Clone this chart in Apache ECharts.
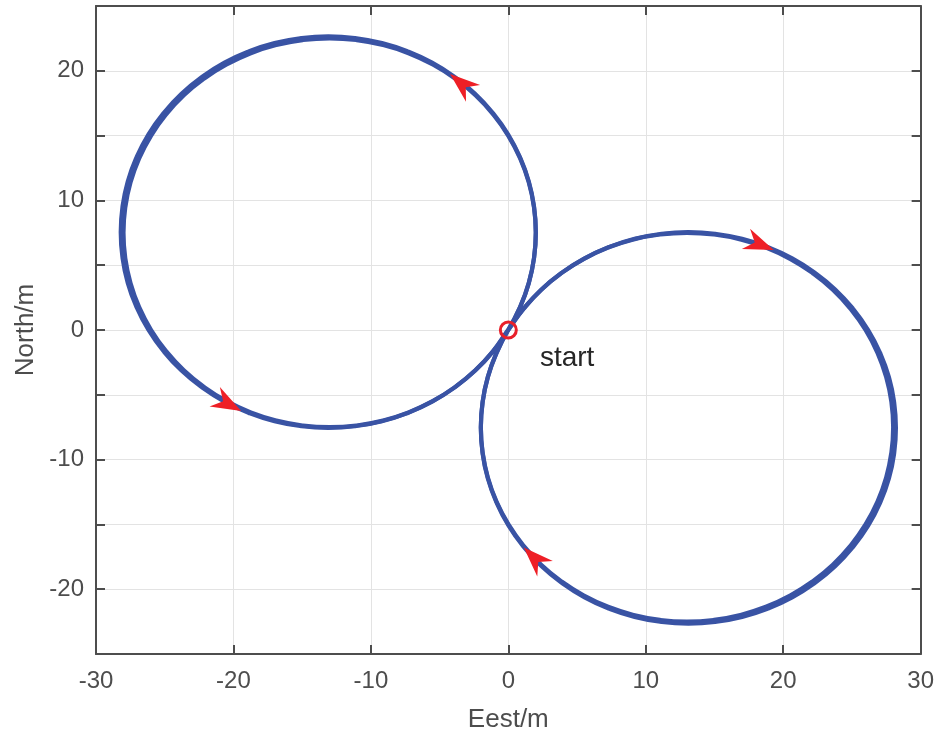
<!DOCTYPE html>
<html>
<head>
<meta charset="utf-8">
<title>Trajectory</title>
<script src="https://cdn.jsdelivr.net/npm/echarts@6/dist/echarts.min.js"></script>
<style>
  html, body { margin: 0; padding: 0; background: #fff; }
  #chart { width: 937px; height: 738px; }
</style>
</head>
<body>
<div id="chart"></div>
<script>
// trajectory, [east, north] in metres
// first lap, west loop (counter-clockwise from the start)
var leftLoop = [
    [0, 0], [0.86, 1.76], [1.49, 3.62], [1.87, 5.54], [2.0, 7.5], [1.87, 9.46],
    [1.49, 11.38], [0.86, 13.24], [-0.01, 15.0], [-1.10, 16.63], [-2.39, 18.11],
    [-3.87, 19.40], [-5.5, 20.49], [-7.26, 21.36], [-9.12, 21.99], [-11.04, 22.37],
    [-13, 22.5], [-14.96, 22.37], [-16.88, 21.99], [-18.74, 21.36], [-20.5, 20.49],
    [-22.13, 19.40], [-23.61, 18.11], [-24.90, 16.63], [-25.99, 15.0], [-26.86, 13.24],
    [-27.49, 11.38], [-27.87, 9.46], [-28, 7.5], [-27.87, 5.54], [-27.49, 3.62],
    [-26.86, 1.76], [-25.99, 0], [-24.90, -1.63], [-23.61, -3.11], [-22.13, -4.40],
    [-20.5, -5.49], [-18.74, -6.36], [-16.88, -6.99], [-14.96, -7.37], [-13, -7.5],
    [-11.04, -7.37], [-9.12, -6.99], [-7.26, -6.36], [-5.5, -5.49], [-3.87, -4.40],
    [-2.39, -3.11], [-1.10, -1.63], [0, 0]
];
// first lap, east loop (clockwise)
var rightLoop = [
    [0, 0], [1.10, 1.63], [2.39, 3.11], [3.87, 4.40], [5.5, 5.49], [7.26, 6.36],
    [9.12, 6.99], [11.04, 7.37], [13, 7.5], [14.96, 7.37], [16.88, 6.99],
    [18.74, 6.36], [20.5, 5.49], [22.13, 4.40], [23.61, 3.11], [24.90, 1.63],
    [25.99, 0], [26.86, -1.76], [27.49, -3.62], [27.87, -5.54], [28, -7.5],
    [27.87, -9.46], [27.49, -11.38], [26.86, -13.24], [25.99, -15.0], [24.90, -16.63],
    [23.61, -18.11], [22.13, -19.40], [20.5, -20.49], [18.74, -21.36], [16.88, -21.99],
    [14.96, -22.37], [13, -22.5], [11.04, -22.37], [9.12, -21.99], [7.26, -21.36],
    [5.5, -20.49], [3.87, -19.40], [2.39, -18.11], [1.10, -16.63], [0.01, -15.0],
    [-0.86, -13.24], [-1.49, -11.38], [-1.87, -9.46], [-2, -7.5], [-1.87, -5.54],
    [-1.49, -3.62], [-0.86, -1.76], [0, 0]
];
// second lap drifts a little outward on the far sides
var leftLoop2 = [
    [-0.02, 0], [0.85, 1.77], [1.49, 3.64], [1.87, 5.58], [2.0, 7.55], [1.87, 9.52],
    [1.49, 11.46], [0.85, 13.33], [-0.02, 15.10], [-1.12, 16.74], [-2.42, 18.23],
    [-3.91, 19.53], [-5.55, 20.63], [-7.32, 21.50], [-9.19, 22.14], [-11.13, 22.52],
    [-13.1, 22.65], [-15.07, 22.52], [-17.01, 22.14], [-18.88, 21.50], [-20.65, 20.63],
    [-22.29, 19.53], [-23.78, 18.23], [-25.08, 16.74], [-26.18, 15.10], [-27.05, 13.33],
    [-27.69, 11.46], [-28.07, 9.52], [-28.2, 7.55], [-28.07, 5.58], [-27.69, 3.64],
    [-27.05, 1.77], [-26.18, 0], [-25.08, -1.64], [-23.78, -3.13], [-22.29, -4.43],
    [-20.65, -5.53], [-18.88, -6.40], [-17.01, -7.04], [-15.07, -7.42], [-13.1, -7.55],
    [-11.13, -7.42], [-9.19, -7.04], [-7.32, -6.40], [-5.55, -5.53], [-3.91, -4.43],
    [-2.42, -3.13], [-1.12, -1.64], [-0.02, 0]
];
var rightLoop2 = [
    [0.02, 0], [1.12, 1.64], [2.42, 3.13], [3.91, 4.43], [5.55, 5.53], [7.32, 6.40],
    [9.19, 7.04], [11.13, 7.42], [13.1, 7.55], [15.07, 7.42], [17.01, 7.04],
    [18.88, 6.40], [20.65, 5.53], [22.29, 4.43], [23.78, 3.13], [25.08, 1.64],
    [26.18, 0], [27.05, -1.77], [27.69, -3.64], [28.07, -5.58], [28.2, -7.55],
    [28.07, -9.52], [27.69, -11.46], [27.05, -13.33], [26.18, -15.10], [25.08, -16.74],
    [23.78, -18.23], [22.29, -19.53], [20.65, -20.63], [18.88, -21.50], [17.01, -22.14],
    [15.07, -22.52], [13.1, -22.65], [11.13, -22.52], [9.19, -22.14], [7.32, -21.50],
    [5.55, -20.63], [3.91, -19.53], [2.42, -18.23], [1.12, -16.74], [0.02, -15.10],
    [-0.85, -13.33], [-1.49, -11.46], [-1.87, -9.52], [-2.0, -7.55], [-1.87, -5.58],
    [-1.49, -3.64], [-0.85, -1.77], [-0.02, 0]
];

// direction arrows: position and heading (deg, counter-clockwise from east)
var arrowX = [-3.4, -20.4, 18.3, 1.9];
var arrowY = [19.0, -5.7, 6.6, -17.6];
var arrowHeading = [140, -28, -22, 135];

var startPoint = [0, 0];
var startText = 'start';
var startTextPos = [2.3, -2.2];

var xTicks = { min: -30, max: 30, step: 10 };
var yTicks = { min: -25, max: 25, step: 5, labelStep: 10 };

var FONT = '"Liberation Sans", Arial, Helvetica, sans-serif';
var AXIS_COLOR = '#4d4d4d';
var TRACK_COLOR = '#3953a4';

var chart = echarts.init(document.getElementById('chart'));

var arrowData = [];
for (var i = 0; i < arrowX.length; i++) {
    arrowData.push({
        value: [arrowX[i], arrowY[i]],
        symbolRotate: arrowHeading[i] - 90
    });
}

function baseAxis(extra) {
    var ax = {
        type: 'value',
        axisLine: { show: true, onZero: false, lineStyle: { color: AXIS_COLOR, width: 2 } },
        axisTick: { show: true, inside: true, length: 9, lineStyle: { color: AXIS_COLOR, width: 2 } },
        axisLabel: { show: false },
        splitLine: { show: false }
    };
    for (var k in extra) ax[k] = extra[k];
    return ax;
}

function track(name, data) {
    return {
        name: name,
        type: 'line',
        data: data,
        smooth: true,
        showSymbol: false,
        symbol: 'none',
        lineStyle: { color: TRACK_COLOR, width: 4.2 },
        z: 2
    };
}

var option = {
    animation: false,
    backgroundColor: '#fff',
    grid: { left: 96, right: 16, top: 6, bottom: 82 },
    xAxis: [
        baseAxis({
            min: xTicks.min, max: xTicks.max, interval: xTicks.step,
            position: 'bottom',
            name: 'Eest/m', nameLocation: 'middle', nameGap: 53,
            nameTextStyle: { color: AXIS_COLOR, fontSize: 26, fontFamily: FONT },
            axisLabel: { show: true, color: AXIS_COLOR, fontSize: 24, fontFamily: FONT, margin: 15 },
            splitLine: { show: true, lineStyle: { color: '#e3e3e3', width: 1 } }
        }),
        baseAxis({
            min: xTicks.min, max: xTicks.max, interval: xTicks.step,
            position: 'top'
        })
    ],
    yAxis: [
        baseAxis({
            min: yTicks.min, max: yTicks.max, interval: yTicks.step,
            position: 'left',
            name: 'North/m', nameLocation: 'middle', nameGap: 57,
            nameTextStyle: { color: AXIS_COLOR, fontSize: 26, fontFamily: FONT },
            axisLabel: {
                show: true, color: AXIS_COLOR, fontSize: 24, fontFamily: FONT, margin: 12,
                formatter: function (v) { return v % yTicks.labelStep === 0 ? String(v) : ''; }
            },
            splitLine: { show: true, lineStyle: { color: '#e3e3e3', width: 1 } }
        }),
        baseAxis({
            min: yTicks.min, max: yTicks.max, interval: yTicks.step,
            position: 'right'
        })
    ],
    series: [
        track('trajectory', leftLoop.concat(rightLoop.slice(1))),
        track('trajectory lap 2', leftLoop2.concat(rightLoop2.slice(1))),
        {
            name: 'direction',
            type: 'scatter',
            data: arrowData,
            symbol: 'path://M0,0 L9,22 L0,15 L-9,22 Z',
            symbolSize: [22, 30],
            itemStyle: { color: '#ee1f26', opacity: 1 },
            z: 4
        },
        {
            name: 'start',
            type: 'scatter',
            data: [startPoint],
            symbol: 'circle',
            symbolSize: 16,
            itemStyle: { color: 'rgba(0,0,0,0)', borderColor: '#e8202a', borderWidth: 3, opacity: 1 },
            z: 5
        },
        {
            name: 'startLabel',
            type: 'scatter',
            data: [startTextPos],
            symbolSize: 1,
            itemStyle: { color: 'rgba(0,0,0,0)', opacity: 1 },
            label: {
                show: true,
                position: 'inside',
                align: 'left',
                verticalAlign: 'middle',
                formatter: startText,
                color: '#262626',
                opacity: 1,
                fontSize: 28,
                fontFamily: FONT
            },
            z: 5
        }
    ]
};

chart.setOption(option);
</script>
</body>
</html>
